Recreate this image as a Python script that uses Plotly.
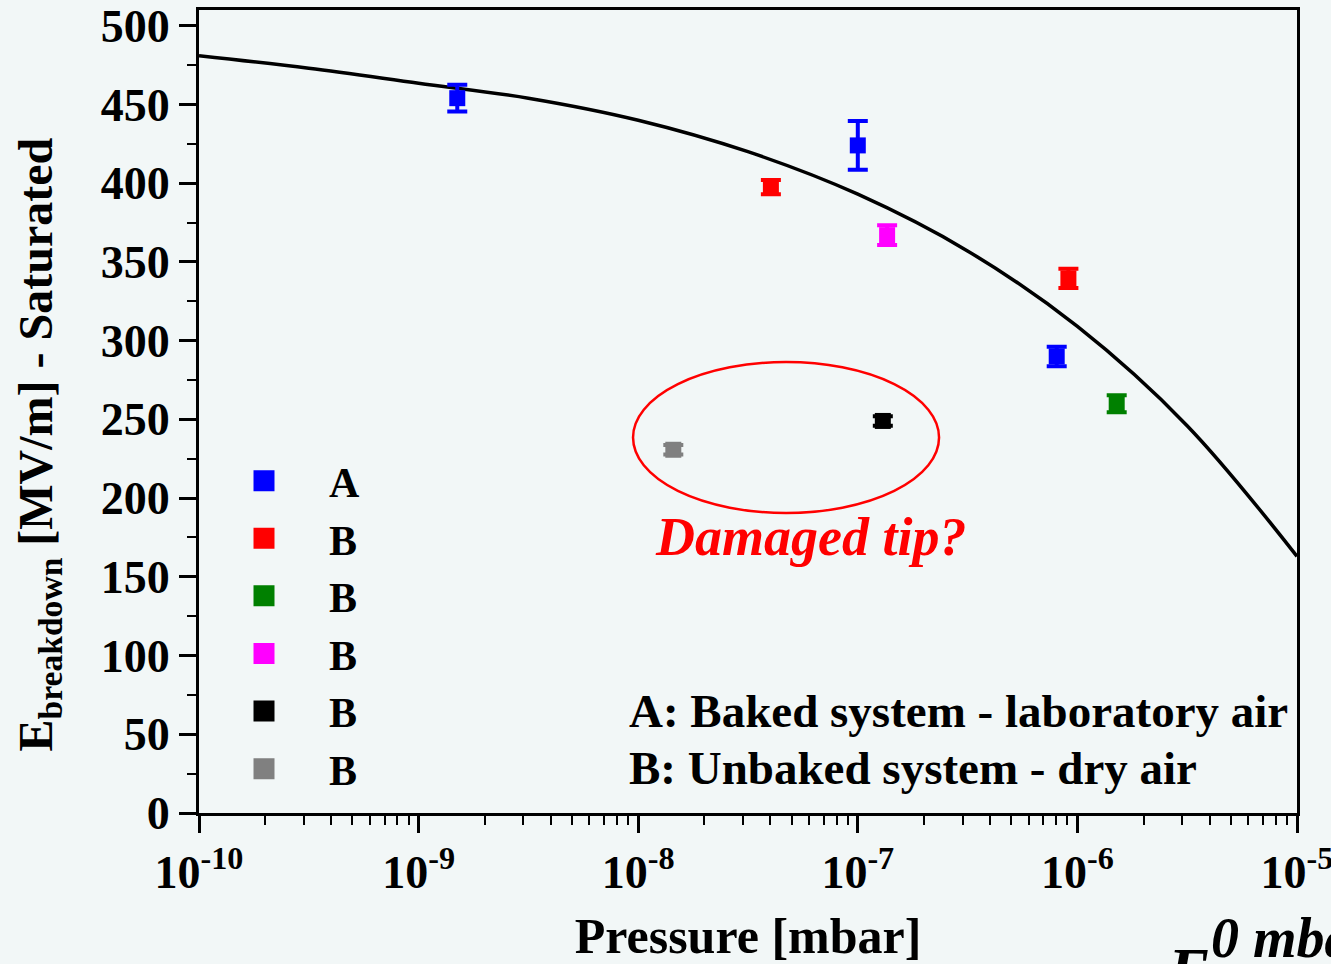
import plotly.graph_objects as go

# ---------------- data ----------------
series_names = ["A", "B", "B", "B", "B", "B"]
series_colors = ["#0000FF", "#FF0000", "#008000", "#FF00FF", "#000000", "#808080"]

pressure_A = [1.5e-9, 1.0e-7, 8.05e-7]
field_A = [454, 424, 290]
err_A = [8.5, 15.5, 6.2]

pressure_B1 = [4.02e-8, 9.1e-7]
field_B1 = [397.5, 339.5]
err_B1 = [4.5, 6.1]

pressure_B2 = [1.51e-6]
field_B2 = [260]
err_B2 = [5.4]

pressure_B3 = [1.36e-7]
field_B3 = [367]
err_B3 = [6.3]

pressure_B4 = [1.30e-7]
field_B4 = [249]
err_B4 = [3.0]

pressure_B5 = [1.445e-8]
field_B5 = [230.7]
err_B5 = [3.0]

fit_pressure = [1e-10, 3.16e-10, 1e-9, 3.16e-9, 1e-8, 3.16e-8, 1e-7, 3.16e-7,
                1e-6, 3.16e-6, 1e-5]
fit_field = [481, 473, 463.5, 454, 440, 420, 393, 357, 309, 246, 163]

x_tick_vals = [1e-10, 1e-9, 1e-8, 1e-7, 1e-6, 1e-5]
x_tick_text = ["10<sup>-10</sup>", "10<sup>-9</sup>", "10<sup>-8</sup>",
               "10<sup>-7</sup>", "10<sup>-6</sup>", "10<sup>-5</sup>"]
y_tick_vals = [0, 50, 100, 150, 200, 250, 300, 350, 400, 450, 500]

# ---------------- figure ----------------
BG = "#F2F7F7"
FONT = "Liberation Serif"

fig = go.Figure()

fig.add_trace(go.Scatter(x=fit_pressure, y=fit_field, mode="lines",
                         line=dict(color="black", width=3.5, shape="spline", smoothing=1.0),
                         showlegend=False, hoverinfo="skip"))

groups = [
    (pressure_A, field_A, err_A),
    (pressure_B1, field_B1, err_B1),
    (pressure_B2, field_B2, err_B2),
    (pressure_B3, field_B3, err_B3),
    (pressure_B4, field_B4, err_B4),
    (pressure_B5, field_B5, err_B5),
]
for (px, py, pe), name, col in zip(groups, series_names, series_colors):
    fig.add_trace(go.Scatter(
        x=px, y=py, mode="markers", name=name, showlegend=False,
        marker=dict(symbol="square", size=16, color=col, line=dict(width=0)),
        error_y=dict(type="data", array=pe, visible=True, color=col,
                     thickness=4, width=10),
    ))

# legend entries (same series, shown with larger key squares)
for name, col in zip(series_names, series_colors):
    fig.add_trace(go.Scatter(
        x=[None], y=[None], mode="markers", name=name, showlegend=True,
        marker=dict(symbol="square", size=16, color=col, line=dict(width=5, color=col)),
    ))

minor_x = [m * 10.0 ** e for e in range(-10, -5) for m in range(2, 10)]

fig.update_layout(
    width=1331, height=964,
    margin=dict(l=199, r=34, t=10, b=151, autoexpand=False),
    paper_bgcolor=BG, plot_bgcolor=BG,
    font=dict(family=FONT, color="black", size=44, weight="bold"),
    xaxis=dict(type="log", range=[-10, -4.99999], showgrid=False, zeroline=False,
               automargin=False, ticklabeloverflow="allow",
               showline=True, linewidth=3, linecolor="black", mirror=True,
               ticks="outside", ticklen=17, tickwidth=3, tickcolor="black",
               tickvals=x_tick_vals, ticktext=x_tick_text,
               tickfont=dict(family=FONT, size=46, weight="bold"),
               minor=dict(ticks="outside", ticklen=9, tickwidth=2,
                          tickcolor="black", tickvals=minor_x, showgrid=False),
               title=dict(text="Pressure [mbar]", standoff=22,
                          font=dict(family=FONT, size=50, weight="bold"))),
    yaxis=dict(range=[0, 510], showgrid=False, zeroline=False, automargin=False,
               ticklabeloverflow="allow",
               showline=True, linewidth=3, linecolor="black", mirror=True,
               ticks="outside", ticklen=17, tickwidth=3, tickcolor="black",
               tickvals=y_tick_vals,
               tickfont=dict(family=FONT, size=46, weight="bold"),
               minor=dict(ticks="outside", ticklen=9, tickwidth=2,
                          tickcolor="black", dtick=25, showgrid=False)),
    legend=dict(x=0.0, y=0.456, xanchor="left", yanchor="top",
                bgcolor="rgba(0,0,0,0)", itemwidth=120,
                font=dict(family=FONT, size=42, weight="bold"),
                tracegroupgap=0),
    showlegend=True,
)

fig.add_shape(type="circle", xref="paper", yref="paper",
              x0=0.3953, x1=0.674, y0=0.3736, y1=0.5616,
              line=dict(color="#FF0000", width=2.5))

fig.add_annotation(text="<i>Damaged tip?</i>", xref="paper", yref="paper",
                   x=0.5565, y=0.3437, xanchor="center", yanchor="middle",
                   showarrow=False,
                   font=dict(family=FONT, size=54, color="#FF0000", weight="bold"))
fig.add_annotation(text="A: Baked system - laboratory air", xref="paper", yref="paper",
                   x=0.3898, y=0.127, xanchor="left", yanchor="middle", showarrow=False,
                   font=dict(family=FONT, size=47, weight="bold"))
fig.add_annotation(text="B: Unbaked system - dry air", xref="paper", yref="paper",
                   x=0.3898, y=0.056, xanchor="left", yanchor="middle", showarrow=False,
                   font=dict(family=FONT, size=47, weight="bold"))
fig.add_annotation(text="E<sub>breakdown</sub> [MV/m] - Saturated",
                   xref="paper", yref="paper", x=0, y=0.459, xshift=-160,
                   xanchor="center", yanchor="middle",
                   textangle=-90, showarrow=False,
                   font=dict(family=FONT, size=48, weight="bold"))
fig.add_annotation(text="<i>E</i>", xref="paper", yref="paper",
                   x=0.8795, y=0, yshift=-120, xanchor="left", yanchor="top",
                   showarrow=False,
                   font=dict(family=FONT, size=64, weight="bold"))
fig.add_annotation(text="<i>0 mbar</i>", xref="paper", yref="paper",
                   x=0.92, y=0, yshift=-92, xanchor="left", yanchor="top",
                   showarrow=False,
                   font=dict(family=FONT, size=56, weight="bold"))

fig.write_html("out.html")
